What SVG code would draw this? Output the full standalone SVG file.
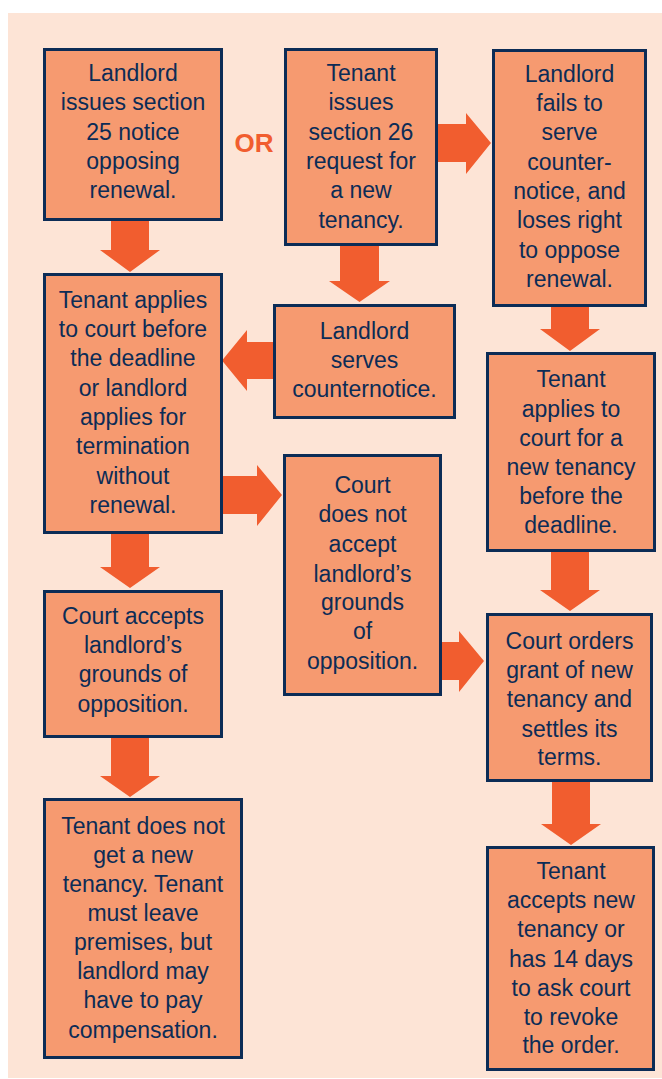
<svg xmlns="http://www.w3.org/2000/svg" width="662" height="1079" viewBox="0 0 662 1079">
<style>
.bg{fill:#FDE4D6}
.box{fill:#F69A70;stroke:#0C2C56;stroke-width:3}
.t{font-family:"Liberation Sans",Arial,sans-serif;font-size:23px;fill:#0C2C56;text-anchor:middle}
.or{font-family:"Liberation Sans",Arial,sans-serif;font-size:26px;font-weight:bold;fill:#F15D2F;text-anchor:middle}
.arr{fill:#F15D2F}
</style>
<rect class="bg" x="8" y="13" width="654" height="1065"/>
<text class="or" x="254" y="152">OR</text>
<g id="connectors">
<polygon class="arr" points="111,221 149,221 149,250 160,250 130,272 100,250 111,250"/>
<polygon class="arr" points="340,246 379,246 379,281 390,281 359.5,302 329,281 340,281"/>
<polygon class="arr" points="551,307 589,307 589,329 600,329 570,351 540,329 551,329"/>
<polygon class="arr" points="551,552 589,552 589,590 600,590 570,611 540,590 551,590"/>
<polygon class="arr" points="552,782 590,782 590,824 601,824 571,845 541,824 552,824"/>
<polygon class="arr" points="111,534 149,534 149,567 160,567 130,588 100,567 111,567"/>
<polygon class="arr" points="111,738 149,738 149,776 160,776 130,797 100,776 111,776"/>
<polygon class="arr" points="438,124 466,124 466,113 491,143 466,174 466,162 438,162"/>
<polygon class="arr" points="223,476 257,476 257,465 282,495 257,526 257,514 223,514"/>
<polygon class="arr" points="442,642 459,642 459,631 484,661 459,692 459,680 442,680"/>
<polygon class="arr" points="273,342 247,342 247,330 222,360.5 247,391 247,379 273,379"/>
</g>
<g id="n1">
<rect class="box" x="44.5" y="49.5" width="177" height="170"/>
<text class="t"><tspan x="133" y="81">Landlord</tspan><tspan x="133" y="110">issues section</tspan><tspan x="133" y="140">25 notice</tspan><tspan x="133" y="169">opposing</tspan><tspan x="133" y="198">renewal.</tspan></text>
</g>
<g id="n2">
<rect class="box" x="285.5" y="49.5" width="151" height="195"/>
<text class="t"><tspan x="361" y="81">Tenant</tspan><tspan x="361" y="110">issues</tspan><tspan x="361" y="140">section 26</tspan><tspan x="361" y="169">request for</tspan><tspan x="361" y="198">a new</tspan><tspan x="361" y="228">tenancy.</tspan></text>
</g>
<g id="n3">
<rect class="box" x="493.5" y="50.5" width="152" height="255"/>
<text class="t"><tspan x="569.5" y="82">Landlord</tspan><tspan x="569.5" y="111">fails to</tspan><tspan x="569.5" y="140">serve</tspan><tspan x="569.5" y="170">counter-</tspan><tspan x="569.5" y="199">notice, and</tspan><tspan x="569.5" y="228">loses right</tspan><tspan x="569.5" y="258">to oppose</tspan><tspan x="569.5" y="287">renewal.</tspan></text>
</g>
<g id="n4">
<rect class="box" x="44.5" y="274.5" width="177" height="258"/>
<text class="t"><tspan x="133" y="308">Tenant applies</tspan><tspan x="133" y="337">to court before</tspan><tspan x="133" y="366">the deadline</tspan><tspan x="133" y="396">or landlord</tspan><tspan x="133" y="425">applies for</tspan><tspan x="133" y="454">termination</tspan><tspan x="133" y="484">without</tspan><tspan x="133" y="513">renewal.</tspan></text>
</g>
<g id="n5">
<rect class="box" x="274.5" y="305.5" width="180" height="112"/>
<text class="t"><tspan x="364.5" y="339">Landlord</tspan><tspan x="364.5" y="368">serves</tspan><tspan x="364.5" y="397">counternotice.</tspan></text>
</g>
<g id="n6">
<rect class="box" x="487.5" y="353.5" width="167" height="197"/>
<text class="t"><tspan x="571" y="387">Tenant</tspan><tspan x="571" y="417">applies to</tspan><tspan x="571" y="446">court for a</tspan><tspan x="571" y="475">new tenancy</tspan><tspan x="571" y="504">before the</tspan><tspan x="571" y="533">deadline.</tspan></text>
</g>
<g id="n7">
<rect class="box" x="284.5" y="455.5" width="156" height="239"/>
<text class="t"><tspan x="362.5" y="493">Court</tspan><tspan x="362.5" y="522">does not</tspan><tspan x="362.5" y="552">accept</tspan><tspan x="362.5" y="582">landlord’s</tspan><tspan x="362.5" y="610">grounds</tspan><tspan x="362.5" y="639">of</tspan><tspan x="362.5" y="669">opposition.</tspan></text>
</g>
<g id="n8">
<rect class="box" x="44.5" y="591.5" width="177" height="145"/>
<text class="t"><tspan x="133" y="624">Court accepts</tspan><tspan x="133" y="653">landlord’s</tspan><tspan x="133" y="682">grounds of</tspan><tspan x="133" y="712">opposition.</tspan></text>
</g>
<g id="n9">
<rect class="box" x="487.5" y="614.5" width="164" height="166"/>
<text class="t"><tspan x="569.5" y="649">Court orders</tspan><tspan x="569.5" y="678">grant of new</tspan><tspan x="569.5" y="707">tenancy and</tspan><tspan x="569.5" y="737">settles its</tspan><tspan x="569.5" y="765">terms.</tspan></text>
</g>
<g id="n10">
<rect class="box" x="44.5" y="799.5" width="197" height="258"/>
<text class="t"><tspan x="143" y="834">Tenant does not</tspan><tspan x="143" y="863">get a new</tspan><tspan x="143" y="892">tenancy. Tenant</tspan><tspan x="143" y="921">must leave</tspan><tspan x="143" y="950">premises, but</tspan><tspan x="143" y="979">landlord may</tspan><tspan x="143" y="1008">have to pay</tspan><tspan x="143" y="1038">compensation.</tspan></text>
</g>
<g id="n11">
<rect class="box" x="487.5" y="847.5" width="166" height="222"/>
<text class="t"><tspan x="571" y="879">Tenant</tspan><tspan x="571" y="908">accepts new</tspan><tspan x="571" y="937">tenancy or</tspan><tspan x="571" y="967">has 14 days</tspan><tspan x="571" y="996">to ask court</tspan><tspan x="571" y="1025">to revoke</tspan><tspan x="571" y="1053">the order.</tspan></text>
</g>
</svg>
